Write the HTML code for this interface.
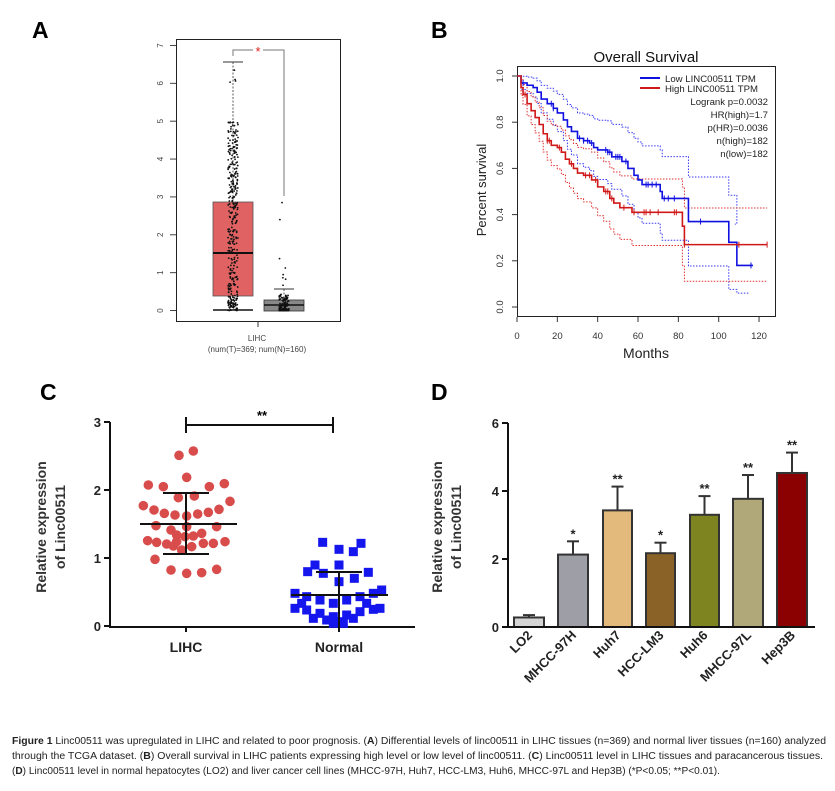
<!DOCTYPE html>
<html><head><meta charset="utf-8"><style>
html,body{margin:0;padding:0;background:#fff}
svg{display:block;font-family:"Liberation Sans",Arial,sans-serif}
</style></head><body>
<svg id="s" width="835" height="791" viewBox="0 0 835 791" xmlns="http://www.w3.org/2000/svg">
<g font-weight="bold" font-size="23">
<text x="32" y="38">A</text><text x="431" y="38">B</text>
<text x="40" y="400">C</text><text x="431" y="400">D</text>
</g>
<rect x="176.5" y="39.5" width="164" height="282" fill="none" stroke="#222" stroke-width="1"/>
<g id="aTicks" stroke="#444" stroke-width="1"></g>
<g id="aLabels" font-size="8" fill="#444"></g>
<rect x="213" y="202" width="40" height="94" fill="#e06262" stroke="#555" stroke-width="0.8"/>
<line x1="213" y1="253" x2="253" y2="253" stroke="#111" stroke-width="2"/>
<line x1="233" y1="62" x2="233" y2="202" stroke="#333" stroke-width="0.8" stroke-dasharray="2,1.5"/>
<line x1="223" y1="62" x2="243" y2="62" stroke="#333" stroke-width="1"/>
<line x1="213" y1="310" x2="253" y2="310" stroke="#111" stroke-width="1.5"/>
<rect x="264" y="300" width="40" height="11" fill="#888" stroke="#333" stroke-width="0.8"/>
<line x1="264" y1="305" x2="304" y2="305" stroke="#111" stroke-width="1.5"/>
<line x1="274" y1="289" x2="294" y2="289" stroke="#333" stroke-width="1"/>
<line x1="284" y1="289" x2="284" y2="300" stroke="#333" stroke-width="0.8" stroke-dasharray="2,1.5"/>
<path d="M233,56 V50 H253 M263,50 H284 V196" fill="none" stroke="#777" stroke-width="1"/>
<text x="258" y="56" font-size="13" fill="#d22" text-anchor="middle">*</text>
<g id="aDots" fill="#111"></g>
<line x1="258" y1="321" x2="258" y2="327" stroke="#333"/>
<text x="257" y="341" font-size="8" fill="#444" text-anchor="middle">LIHC</text>
<text x="257" y="352" font-size="8" fill="#444" text-anchor="middle">(num(T)=369; num(N)=160)</text>

<text x="646" y="62" font-size="15" text-anchor="middle" fill="#111">Overall Survival</text>
<rect x="517.5" y="66.5" width="258" height="250" fill="none" stroke="#222"/>
<g id="bAxes" stroke="#333"></g>
<g id="bLab" font-size="9.5" fill="#333"></g>
<text x="646" y="358" font-size="14" text-anchor="middle" fill="#222">Months</text>
<text transform="translate(486,190) rotate(-90)" font-size="13" text-anchor="middle" fill="#222">Percent survival</text>
<g id="bCurves"></g>
<line x1="640" y1="78" x2="660" y2="78" stroke="#1010e0" stroke-width="2"/>
<line x1="640" y1="88" x2="660" y2="88" stroke="#d01818" stroke-width="2"/>
<g font-size="9.6" fill="#222">
<text x="665" y="82">Low LINC00511 TPM</text>
<text x="665" y="92">High LINC00511 TPM</text>
<g text-anchor="end">
<text x="768" y="105">Logrank p=0.0032</text>
<text x="768" y="118">HR(high)=1.7</text>
<text x="768" y="131">p(HR)=0.0036</text>
<text x="768" y="144">n(high)=182</text>
<text x="768" y="157">n(low)=182</text>
</g></g>

<g stroke="#111" stroke-width="2" fill="none">
<path d="M110,422 V627 H415"/>
<path d="M104,422 H110 M104,490 H110 M104,558 H110 M104,626 H110"/>
<path d="M186,627 V632 M339,627 V632"/>
<path d="M186,425 H333 M186,417 V433 M333,417 V433"/>
</g>
<g font-size="13" font-weight="bold" text-anchor="end" fill="#222">
<text x="101" y="427">3</text><text x="101" y="495">2</text><text x="101" y="563">1</text><text x="101" y="631">0</text>
</g>
<text x="262" y="420" font-size="13" font-weight="bold" text-anchor="middle">**</text>
<g font-size="14" font-weight="bold" text-anchor="middle" fill="#222">
<text x="186" y="652">LIHC</text><text x="339" y="652">Normal</text>
</g>
<g font-size="14" font-weight="bold" text-anchor="middle" fill="#333">
<text transform="translate(46,527) rotate(-90)">Relative  expression</text>
<text transform="translate(65,527) rotate(-90)">of Linc00511</text>
<text transform="translate(442,527) rotate(-90)">Relative  expression</text>
<text transform="translate(461,527) rotate(-90)">of Linc00511</text>
</g>
<g id="cDots"></g>
<g stroke="#111" stroke-width="2">
<path d="M140,524 H237 M186,493 V554 M163,493 H209 M163,554 H209"/>
<path d="M291,595 H388 M339,572 V628 M316,572 H362"/>
</g>

<g id="dBars"></g>
<g stroke="#111" stroke-width="2" fill="none">
<path d="M508,423 V627 H815"/>
<path d="M502,423 H508 M502,491 H508 M502,559 H508 M502,627 H508"/>
</g>
<g font-size="13" font-weight="bold" text-anchor="end" fill="#222">
<text x="499" y="428">6</text><text x="499" y="496">4</text><text x="499" y="564">2</text><text x="499" y="632">0</text>
</g>
<g id="dLab" font-size="13" font-weight="bold" fill="#222"></g>

<g font-size="10" fill="#222" font-family="'Liberation Sans Narrow','Liberation Sans',sans-serif">
<text x="12" y="744" textLength="814" lengthAdjust="spacingAndGlyphs"><tspan font-weight="bold">Figure 1</tspan> Linc00511 was upregulated in LIHC and related to poor prognosis. (<tspan font-weight="bold">A</tspan>) Differential levels of linc00511 in LIHC tissues (n=369) and normal liver tissues (n=160) analyzed</text>
<text x="12" y="759" textLength="811" lengthAdjust="spacingAndGlyphs">through the TCGA dataset. (<tspan font-weight="bold">B</tspan>) Overall survival in LIHC patients expressing high level or low level of linc00511. (<tspan font-weight="bold">C</tspan>) Linc00511 level in LIHC tissues and paracancerous tissues.</text>
<text x="12" y="774" textLength="708" lengthAdjust="spacingAndGlyphs">(<tspan font-weight="bold">D</tspan>) Linc00511 level in normal hepatocytes (LO2) and liver cancer cell lines (MHCC-97H, Huh7, HCC-LM3, Huh6, MHCC-97L and Hep3B) (*P&lt;0.05; **P&lt;0.01).</text>
</g>
</svg>
<script>
var NS="http://www.w3.org/2000/svg";
function el(p,t,a,txt){var e=document.createElementNS(NS,t);for(var k in a)e.setAttribute(k,a[k]);if(txt!=null)e.textContent=txt;document.getElementById(p).appendChild(e);return e;}
var seed=7;function rnd(){seed=(seed*16807)%2147483647;return (seed-1)/2147483646;}
for(var i=0;i<=7;i++){var y=310.5-i*37.86;el("aTicks","line",{x1:170,y1:y,x2:176,y2:y});
el("aLabels","text",{transform:"translate(163,"+y+") rotate(-90)","text-anchor":"middle"},i);}
function ay(v){return 310.5-v*37.86;}
for(var i=0;i<369;i++){var r=rnd(),v;
 if(i<20)v=rnd()*0.3;else v=Math.pow(r,1.25)*5.0;
 if(i<4)v=5.8+rnd()*0.8;
 el("aDots","circle",{cx:233+(rnd()-0.5)*10,cy:ay(v),r:0.9});}
for(var i=0;i<160;i++){var v=Math.pow(rnd(),3)*0.45;if(i<8)v=0.55+rnd()*1.0;if(i<2)v=2.4+i*0.45;
 el("aDots","circle",{cx:284+(rnd()-0.5)*10,cy:ay(v),r:0.9});}
function bx(m){return 517+m*2.017;}function by(s){return 307-s*231;}
for(var m=0;m<=120;m+=20){el("bAxes","line",{x1:bx(m),y1:317,x2:bx(m),y2:322});el("bLab","text",{x:bx(m),y:339,"text-anchor":"middle"},m);}
for(var s=0;s<=5;s++){var y=by(s*0.2);el("bAxes","line",{x1:512,y1:y,x2:517,y2:y});
 el("bLab","text",{transform:"translate(503,"+y+") rotate(-90)","text-anchor":"middle"},(s*0.2).toFixed(1));}
function step(pts,end){var d="M"+bx(pts[0][0])+","+by(pts[0][1]);for(var i=1;i<pts.length;i++){d+=" H"+bx(pts[i][0])+" V"+by(pts[i][1]);}d+=" H"+bx(end);return d;}
var blue=[[0,1],[2,0.97],[5,0.96],[8,0.95],[10,0.93],[12,0.9],[15,0.88],[18,0.86],[20,0.84],[23,0.81],[25,0.78],[27,0.76],[30,0.73],[33,0.72],[36,0.71],[38,0.69],[40,0.68],[45,0.67],[47,0.65],[52,0.63],[55,0.6],[58,0.57],[60,0.55],[62,0.53],[71,0.5],[72,0.47],[85,0.37],[105,0.28],[109,0.18]];
var red=[[0,1],[2,0.95],[3,0.92],[5,0.88],[7,0.85],[9,0.82],[11,0.79],[13,0.75],[15,0.72],[17,0.70],[20,0.69],[22,0.67],[24,0.64],[26,0.62],[28,0.6],[30,0.58],[33,0.57],[37,0.55],[40,0.52],[43,0.5],[46,0.47],[48,0.45],[51,0.43],[57,0.41],[82,0.35],[83,0.27]];
function ci(arr,f){return arr.map(function(p){var s=p[1];var d=f*Math.sqrt(s*(1-s))*0.3*(1+p[0]/60);return [p[0],Math.max(0.06,Math.min(1,s+d))];});}
var g="bCurves";
el(g,"path",{d:step(ci(blue,0.55),108),fill:"none",stroke:"#3a3af0","stroke-width":1,"stroke-dasharray":"1.5,1.5"});
el(g,"path",{d:step(ci(blue,-0.55),115),fill:"none",stroke:"#3a3af0","stroke-width":1,"stroke-dasharray":"1.5,1.5"});
el(g,"path",{d:step(ci(red,0.5),124),fill:"none",stroke:"#e03030","stroke-width":1,"stroke-dasharray":"1.5,1.5"});
el(g,"path",{d:step(ci(red,-0.5),124),fill:"none",stroke:"#e03030","stroke-width":1,"stroke-dasharray":"1.5,1.5"});
el(g,"path",{d:step(blue,117),fill:"none",stroke:"#1010e0","stroke-width":1.6});
el(g,"path",{d:step(red,124),fill:"none",stroke:"#d01818","stroke-width":1.6});
function cens(arr,ms,col){ms.forEach(function(m){var s=1;arr.forEach(function(p){if(p[0]<=m)s=p[1];});var x=bx(m),y=by(s);el(g,"line",{x1:x,y1:y-3,x2:x,y2:y+3,stroke:col,"stroke-width":1});});}
cens(blue,[3,17,18,31,33,35,37,44,45,46,49,50,51,54,64,65,67,69,73,75,78,91,116],"#1010e0");
cens(red,[4,15,16,21,27,34,36,39,44,45,47,53,58,63,64,66,70,78,79,83,110,124],"#d01818");
var rd=[[537,256],[580,243],[560,322],[445,345],[490,350],[628,350],[673,341],[535,383],[583,378],[690,394],[430,407],[462,420],[493,430],[525,435],[560,438],[593,432],[625,427],[657,418],[468,467],[513,480],[560,470],[605,490],[650,470],[443,512],[470,517],[500,522],[530,515],[555,500],[580,498],[610,520],[640,520],[675,515],[520,528],[545,540],[575,530],[465,568],[513,600],[560,610],[605,608],[650,598],[530,495]];
rd.forEach(function(p){el("cDots","circle",{cx:p[0]/3,cy:p[1]/3+370,r:4.8,fill:"#d94c4c"});});
var bl=[[968,517],[1017,538],[1083,520],[1060,545],[945,585],[923,605],[970,610],[1017,585],[1063,625],[1105,607],[1017,635],[885,670],[920,680],[960,690],[1000,700],[1040,690],[1080,680],[1120,670],[1145,660],[885,715],[920,720],[960,730],[1000,740],[1040,735],[1080,725],[1120,718],[1140,715],[940,745],[980,750],[1020,755],[1060,745],[1000,760],[1030,760],[905,700],[1100,700]];
bl.forEach(function(p){el("cDots","rect",{x:p[0]/3-4.5,y:p[1]/3+370-4.5,width:9,height:9,fill:"#1515ee"});});
function dy(v){return 627-v*34;}
var bars=[["LO2",514,544,0.28,0.35,"#d4d4d4",""],["MHCC-97H",558,588,2.13,2.52,"#9e9ea6","*"],["Huh7",603,632,3.43,4.13,"#e3b97c","**"],["HCC-LM3",646,675,2.17,2.48,"#8a6228","*"],["Huh6",690,719,3.3,3.85,"#7e8420","**"],["MHCC-97L",733,763,3.77,4.47,"#b0a878","**"],["Hep3B",777,807,4.53,5.13,"#8b0000","**"]];
bars.forEach(function(b){var c=(b[1]+b[2])/2;
 el("dBars","line",{x1:c,y1:dy(b[4]),x2:c,y2:dy(b[3]),stroke:"#333","stroke-width":2});
 el("dBars","line",{x1:c-6,y1:dy(b[4]),x2:c+6,y2:dy(b[4]),stroke:"#333","stroke-width":2});
 el("dBars","rect",{x:b[1],y:dy(b[3]),width:b[2]-b[1],height:b[3]*34,fill:b[5],stroke:"#333","stroke-width":2});
 if(b[6])el("dBars","text",{x:c,y:dy(b[4])-3,"text-anchor":"middle","font-size":13,"font-weight":"bold",fill:"#222"},b[6]);
 el("dLab","text",{transform:"translate("+(c+4)+",636) rotate(-45)","text-anchor":"end"},b[0]);
});
</script>
</body></html>
